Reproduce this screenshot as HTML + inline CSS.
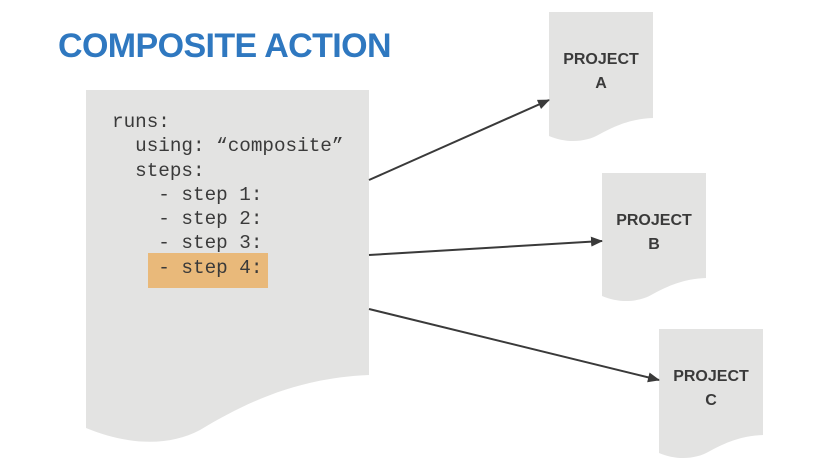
<!DOCTYPE html>
<html><head><style>
body{margin:0;width:822px;height:471px;background:#fff;overflow:hidden;position:relative;font-family:"Liberation Sans",sans-serif}
.t{position:absolute;left:58px;top:27px;font-size:34px;font-weight:bold;color:#2f78c0;letter-spacing:-0.6px}
.code{position:absolute;left:112px;top:110px;font-family:"Liberation Mono",monospace;font-size:19.3px;line-height:24.3px;color:#3a3a3a;white-space:pre}
.lbl{position:absolute;width:104px;text-align:center;font-weight:bold;font-size:16px;line-height:24px;color:#3a3a3a}
</style></head><body>
<svg width="822" height="471" style="position:absolute;left:0;top:0">
<defs><marker id="ar" markerWidth="12" markerHeight="10" refX="11" refY="5" orient="auto" markerUnits="userSpaceOnUse"><path d="M0,0 L12,5 L0,10 Z" fill="#3a3a3a"/></marker></defs>
<path d="M86,90 H369 V375 C300,378 250,400 200,430 C170,446 130,446 86,428 Z" fill="#e3e3e2"/>
<rect x="148" y="253" width="120" height="35" fill="#e9b97a"/>
<path d="M549,12 H653 V118 C630,119 615,126 600,134 C585,143 565,143 549,136 Z" fill="#e3e3e2"/>
<path d="M602,173 H706 V278 C683,279 668,286 653,294 C638,303 618,303 602,296 Z" fill="#e3e3e2"/>
<path d="M659,329 H763 V435 C740,436 725,443 710,451 C695,460 675,460 659,453 Z" fill="#e3e3e2"/>
<g stroke="#3a3a3a" stroke-width="2" marker-end="url(#ar)">
<line x1="369" y1="180" x2="549" y2="100"/>
<line x1="369" y1="255" x2="602" y2="241"/>
<line x1="369" y1="309" x2="659" y2="380"/>
</g>
</svg>
<div class="t">COMPOSITE ACTION</div>
<div class="code">runs:
  using: “composite”
  steps:
    - step 1:
    - step 2:
    - step 3:
    - step 4:</div>
<div class="lbl" style="left:549px;top:48px">PROJECT<br>A</div>
<div class="lbl" style="left:602px;top:209px">PROJECT<br>B</div>
<div class="lbl" style="left:659px;top:365px">PROJECT<br>C</div>
</body></html>
